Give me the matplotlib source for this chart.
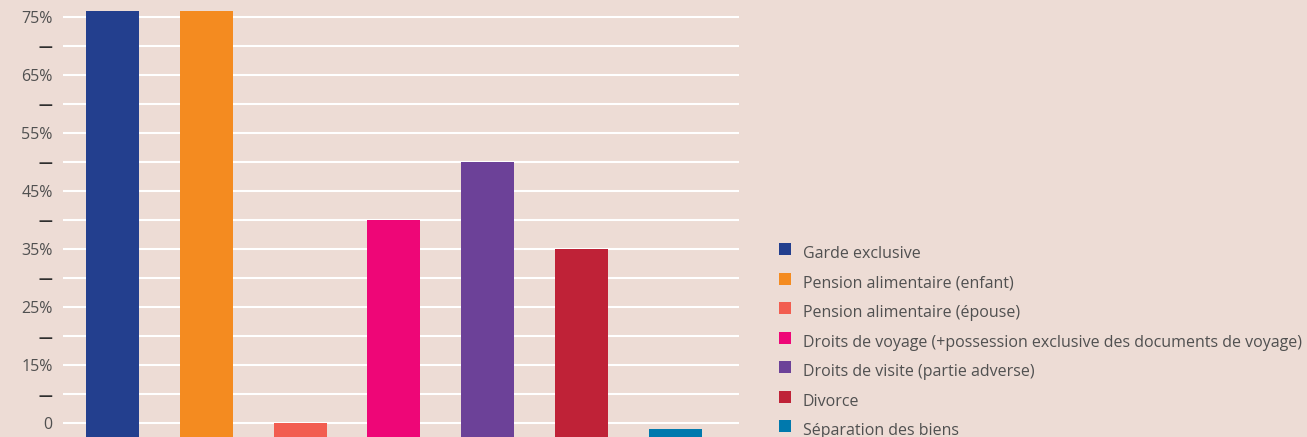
import matplotlib
matplotlib.use("Agg")
import matplotlib.pyplot as plt
from matplotlib.patches import Rectangle

categories = ["Garde exclusive", "Pension alimentaire (enfant)", "Pension alimentaire (épouse)",
              "Droits de voyage (+possession exclusive des documents de voyage)",
              "Droits de visite (partie adverse)", "Divorce", "Séparation des biens"]
values = [76, 76, 5, 40, 50, 35, 4]
colors = ["#233F8E", "#F48B20", "#F25D50", "#EE0677", "#6C4198", "#BF2237", "#0079AD"]
tick_positions = [5, 10, 15, 20, 25, 30, 35, 40, 45, 50, 55, 60, 65, 70, 75]
tick_labels = ["0", "—", "15%", "—", "25%", "—", "35%", "—", "45%", "—", "55%", "—", "65%", "—", "75%"]

BG = "#EDDCD5"
TXT = "#505050"
FONT = "Open Sans"
FS = 11.5

W, H = 1307, 437
fig = plt.figure(figsize=(W / 100, H / 100), dpi=100, facecolor=BG)
ax = fig.add_axes([63 / W, 0, (739 - 63) / W, 1])
ax.set_facecolor(BG)

x = list(range(len(values)))
ax.bar(x, values, width=0.565, color=colors, zorder=3)
ax.set_xlim(-0.528, 6.68)
ax.set_ylim(2.6, 77.9)
ax.set_yticks(tick_positions)
ax.set_yticklabels(tick_labels, fontsize=FS, color=TXT, family=FONT)
for t in ax.get_yticklabels():
    if t.get_text() == "—":
        t.set_fontweight("bold")
        t.set_fontsize(10)
        t.set_color("#2E2E2E")
ax.tick_params(axis="y", length=0, pad=7.5)
ax.set_xticks([])
ax.grid(axis="y", color="white", linewidth=1.5, zorder=0)
for s in ax.spines.values():
    s.set_visible(False)

# legend
row0 = 249.5
step = 29.4
for i, (lab, c) in enumerate(zip(categories, colors)):
    yc = row0 + i * step
    fig.patches.append(Rectangle((779 / W, 1 - (yc + 6) / H), 12 / W, 12 / H,
                                 transform=fig.transFigure, facecolor=c, edgecolor="none"))
    fig.text(803 / W, 1 - (yc + 5) / H, lab, fontsize=FS, color=TXT, family=FONT,
             ha="left", va="center")

fig.savefig("out.png", dpi=100, facecolor=BG)
